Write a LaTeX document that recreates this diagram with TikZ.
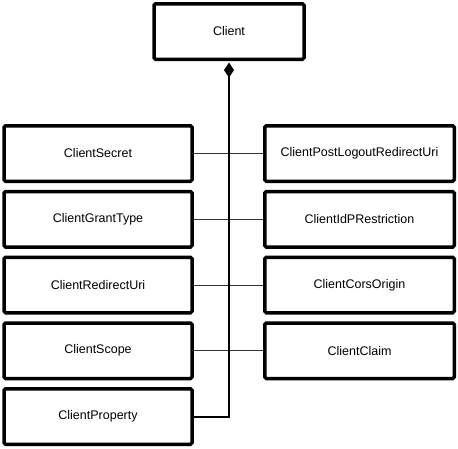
\documentclass[tikz,border=0pt]{standalone}
\usepackage{fontspec}
\setmainfont{Liberation Sans}
\usetikzlibrary{arrows.meta}
\tikzset{
  cbox/.style={draw=black, line width=3.5pt, rounded corners=1.5pt, fill=white,
    minimum height=55.5pt, inner sep=0pt, font=\fontsize{12.5}{14}\selectfont},
  lbox/.style={cbox, minimum width=188pt},
  rbox/.style={cbox, minimum width=189.5pt},
  hlink/.style={draw=black!80, line width=1pt},
  vlink/.style={draw=black, line width=2pt}
}
\begin{document}
\begin{tikzpicture}[x=1pt,y=-1pt]
\useasboundingbox (0,0) rectangle (458,448);
\node[cbox, minimum width=150pt] (client) at (229,31.5) {Client};
\node[lbox] (secret) at (98,153.5) {ClientSecret};
\node[lbox] (grant) at (98,219.25) {ClientGrantType};
\node[lbox] (redirect) at (98,285) {ClientRedirectUri};
\node[lbox] (scope) at (98,350.75) {ClientScope};
\node[lbox] (prop) at (98,416.5) {ClientProperty};
\node[rbox] (postlogout) at (359.5,153.5) {ClientPostLogoutRedirectUri};
\node[rbox] (idp) at (359.5,219.25) {ClientIdPRestriction};
\node[rbox] (cors) at (359.5,285) {ClientCorsOrigin};
\node[rbox] (claim) at (359.5,350.75) {ClientClaim};
\draw[hlink] (secret.east) -- (postlogout.west);
\draw[hlink] (grant.east) -- (idp.west);
\draw[hlink] (redirect.east) -- (cors.west);
\draw[hlink] (scope.east) -- (claim.west);
\draw[vlink, {Diamond[length=15pt,width=10pt]}-] ([yshift=-1.5pt]client.south) |- (prop.east);
\end{tikzpicture}
\end{document}
